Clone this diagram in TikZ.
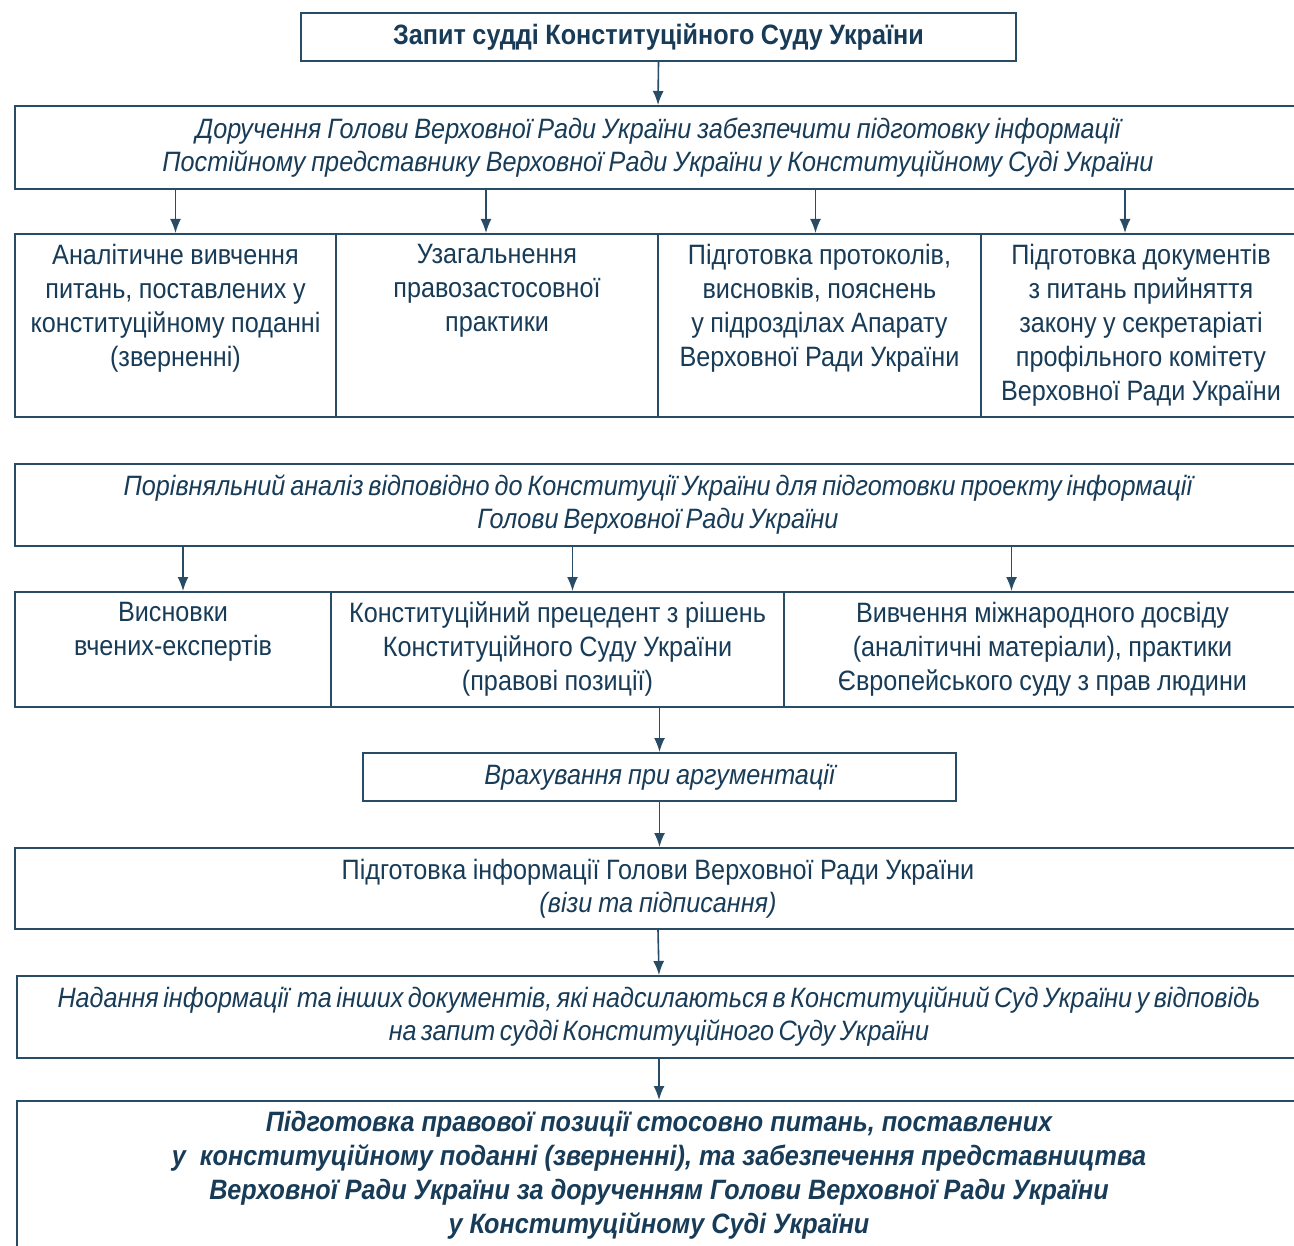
\documentclass[tikz,border=0pt]{standalone}
\usepackage{fontspec}
\setmainfont{Liberation Sans}[FakeStretch=0.9]
\usetikzlibrary{arrows.meta}
\definecolor{ink}{RGB}{24,60,88}
\definecolor{frame}{RGB}{40,76,102}
\newcommand\fsz{\fontsize{28}{33}\selectfont}
\newcommand\upsp{\spaceskip=6.5pt\relax}
\newcommand\itsp{\spaceskip=6pt\relax}
\newcommand\bfsp{\spaceskip=6.5pt\relax}
\newcommand\topbox[3]{\parbox[c][#1pt][t]{#2pt}{\vspace*{10pt}\centering\fontsize{28}{34}\selectfont\spaceskip=6.5pt\relax #3\par}}
\begin{document}
\begin{tikzpicture}[x=1pt,y=-1pt,
  box/.style={draw=frame, line width=2pt, inner sep=0pt, text=ink, align=center, anchor=north west, font=\fsz},
  cell/.style={draw=frame, line width=2pt, inner sep=0pt, text=ink, anchor=north west},
  arr/.style={draw=frame, line width=1.6pt, -{Latex[length=14pt,width=11pt]}}]
\useasboundingbox (0,0) rectangle (1294,1246);
\clip (0,0) rectangle (1294,1246);
\fill[white] (0,0) rectangle (1294,1246);

% level 1
\node[box, minimum width=715pt, minimum height=48pt, text width=700pt, font=\fsz\bfseries] (b1) at (300,12)
  {\bfsp Запит судді Конституційного Суду України};

% level 2
\node[box, minimum width=1286pt, minimum height=83pt, text width=1250pt, font=\fsz\itshape] (b2) at (14,105)
  {\itsp Доручення Голови Верховної Ради України забезпечити підготовку інформації\\
   Постійному представнику Верховної Ради України у Конституційному Суді України};

% level 3 row
\node[cell] (r3a) at (14,233) {\topbox{183}{321}{Аналітичне вивчення\\питань, поставлених у\\конституційному поданні\\(зверненні)}};
\node[cell] (r3b) at (335,233) {\topbox{183}{322}{Узагальнення\\правозастосовної\\практики}};
\node[cell] (r3c) at (657,233) {\topbox{183}{323}{Підготовка протоколів,\\висновків, пояснень\\у підрозділах Апарату\\Верховної Ради України}};
\node[cell] (r3d) at (980,233) {\topbox{183}{320}{Підготовка документів\\з питань прийняття\\закону у секретаріаті\\профільного комітету\\Верховної Ради України}};

% level 4
\node[box, minimum width=1286pt, minimum height=82pt, text width=1250pt, font=\fsz\itshape] (b4) at (14,463)
  {\spaceskip=5pt\relax Порівняльний аналіз відповідно до Конституції України для підготовки проекту інформації\\
   Голови Верховної Ради України};

% level 5 row
\node[cell] (r5a) at (14,591) {\topbox{115}{316}{Висновки\\вчених-експертів}};
\node[cell] (r5b) at (330,591) {\topbox{115}{453}{Конституційний прецедент з рішень\\Конституційного Суду України\\(правові позиції)}};
\node[cell] (r5c) at (783,591) {\topbox{115}{517}{Вивчення міжнародного досвіду\\(аналітичні матеріали), практики\\Європейського суду з прав людини}};

% level 6
\node[box, minimum width=593pt, minimum height=48pt, text width=580pt, font=\fsz\itshape] (b6) at (362,752)
  {\itsp Врахування при аргументації};

% level 7
\node[box, minimum width=1286pt, minimum height=81pt, text width=1250pt] (b7) at (14,847)
  {\upsp Підготовка інформації Голови Верховної Ради України\\
   {\itshape\itsp (візи та підписання)}};

% level 8
\node[box, minimum width=1284pt, minimum height=82pt, text width=1270pt, font=\fsz\itshape] (b8) at (16,975)
  {\spaceskip=4.5pt\relax Надання інформації\hspace{4pt} та інших документів, які надсилаються в Конституційний Суд України у відповідь\\
   на запит судді Конституційного Суду України};

% level 9
\node[cell] (b9) at (16,1100) {\topbox{160}{1284}{\bfseries\itshape\spaceskip=7pt\relax
  Підготовка правової позиції стосовно питань, поставлених\\
  у\enspace конституційному поданні (зверненні), та забезпечення представництва\\
  Верховної Ради України за дорученням Голови Верховної Ради України\\
  у Конституційному Суді України}};

% connectors
\draw[arr] (b1.south) -- (b2.north);
\draw[arr] (r3a.north |- b2.south) -- (r3a.north);
\draw[arr] ([xshift=-11pt]r3b.north |- b2.south) -- ([xshift=-11pt]r3b.north);
\draw[arr] ([xshift=-4pt]r3c.north |- b2.south) -- ([xshift=-4pt]r3c.north);
\draw[arr] ([xshift=-16pt]r3d.north |- b2.south) -- ([xshift=-16pt]r3d.north);
\draw[arr] ([xshift=10pt]r5a.north |- b4.south) -- ([xshift=10pt]r5a.north);
\draw[arr] ([xshift=15pt]r5b.north |- b4.south) -- ([xshift=15pt]r5b.north);
\draw[arr] ([xshift=-31pt]r5c.north |- b4.south) -- ([xshift=-31pt]r5c.north);
\draw[arr] (b6.north |- r5b.south) -- (b6.north);
\draw[arr] (b6.south) -- (b6.south |- b7.north);
\draw[arr] (b7.south) -- (b8.north);
\draw[arr] (b8.south) -- (b9.north);
\end{tikzpicture}
\end{document}
